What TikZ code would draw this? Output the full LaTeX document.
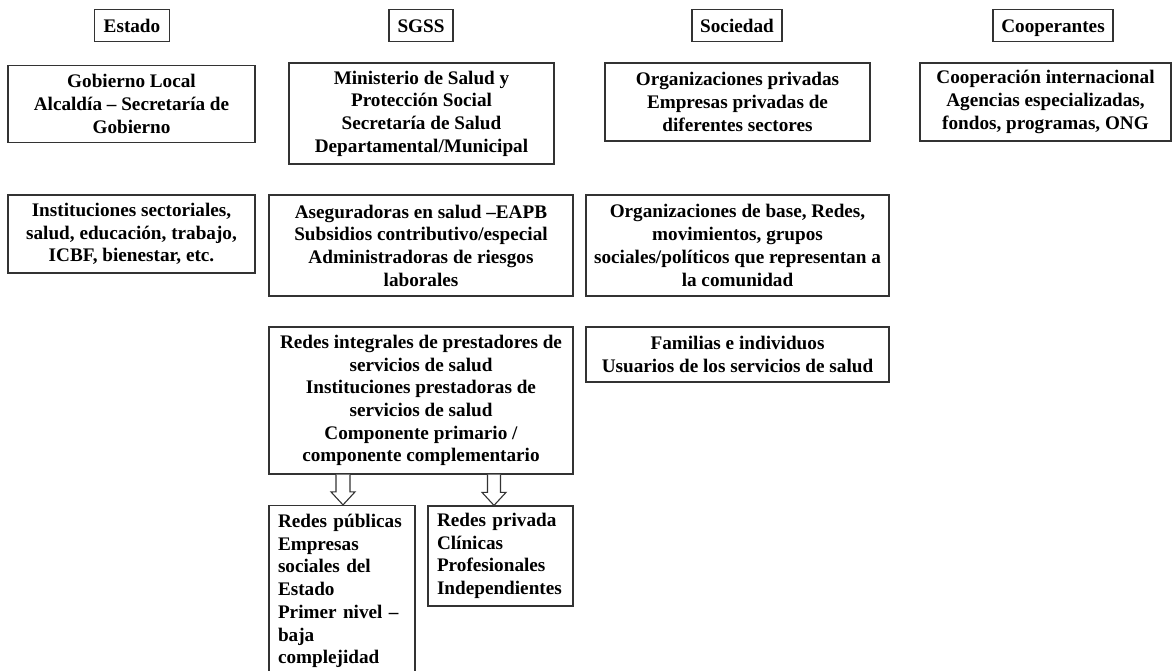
\documentclass[tikz,border=0pt]{standalone}
\usepackage{fontspec}
\setmainfont{Liberation Serif}
\usetikzlibrary{calc}
\begin{document}
\begin{tikzpicture}[x=1pt,y=-1pt,
  box/.style={draw=black!80, line width=1.2pt, rectangle, inner sep=0pt, align=center,
    font=\fontsize{19.2}{22.7}\selectfont\bfseries},
  hdr/.style={box, text height=14.4pt, text depth=0pt, minimum height=32},
  lbox/.style={draw=black!80, line width=1.2pt, rectangle, inner ysep=0pt, inner xsep=9pt, align=left,
    font=\fontsize{19.2}{22.7}\selectfont\bfseries},
  hollow/.style={draw=black!80, line width=1.1pt, fill=white, line join=miter}
]
\useasboundingbox (0,0) rectangle (1174,671);
\clip (0,0) rectangle (1174,671);
% headers
\node[hdr, minimum width=75] (estado) at (132,25.5) {Estado};
\node[hdr, minimum width=64] (sgss) at (421,25.5) {SGSS};
\node[hdr, minimum width=90] (soc) at (737,25.5) {Sociedad};
\node[hdr, minimum width=120] (coop) at (1053,25.5) {Cooperantes};
% row 1
\node[box, minimum width=247, minimum height=77.5] (gob) at (131.5,104) {Gobierno Local\\Alcaldía -- Secretaría de\\Gobierno};
\node[box, minimum width=265, minimum height=101] (min) at (421.5,113.5) {Ministerio de Salud y\\Protección Social\\Secretaría de Salud\\Departamental/Municipal};
\node[box, minimum width=265, minimum height=78] (orgp) at (737.5,102) {Organizaciones privadas\\Empresas privadas de\\diferentes sectores};
\node[box, minimum width=251, minimum height=78] (coopi) at (1045.5,102) {Cooperación internacional\\Agencias especializadas,\\fondos, programas, ONG};
% row 2
\node[box, minimum width=247, minimum height=78] (inst) at (131.5,234) {Instituciones sectoriales,\\salud, educación, trabajo,\\ICBF, bienestar, etc.};
\node[box, minimum width=304, minimum height=101] (aseg) at (421,245.5) {Aseguradoras en salud --EAPB\\Subsidios contributivo/especial\\Administradoras de riesgos\\laborales};
\node[box, minimum width=303, minimum height=101] (orgb) at (737.5,245.5) {Organizaciones de base, Redes,\\movimientos, grupos\\sociales/políticos que representan a\\la comunidad};
% row 3
\node[box, minimum width=304, minimum height=147] (ri) at (421,400.5) {Redes integrales de prestadores de\\servicios de salud\\Instituciones prestadoras de\\servicios de salud\\Componente primario /\\componente complementario};
\node[box, minimum width=303, minimum height=55] (fam) at (737.5,354.5) {Familias e individuos\\Usuarios de los servicios de salud};
% row 4
\node[lbox, text width=128, minimum height=171] (pub) at (342,591) {Redes públicas\\Empresas\\sociales del\\Estado\\Primer nivel --\\baja\\complejidad};
\node[lbox, text width=127, minimum height=100] (priv) at (500.5,556) {Redes privada\\Clínicas\\Profesionales\\Independientes};
% hollow arrows
\coordinate (la) at (ri.south -| 343,0);
\coordinate (lb) at (pub.north -| 343,0);
\coordinate (ra) at (ri.south -| 494,0);
\coordinate (rb) at (priv.north -| 494,0);
\draw[hollow] ($(la)+(-7,0)$) -- ($(lb)+(-7,-13)$) -- ($(lb)+(-12,-13)$) -- (lb) -- ($(lb)+(12,-13)$) -- ($(lb)+(7,-13)$) -- ($(la)+(7,0)$);
\draw[hollow] ($(ra)+(-6.5,0)$) -- ($(rb)+(-6.5,-13)$) -- ($(rb)+(-12,-13)$) -- (rb) -- ($(rb)+(12,-13)$) -- ($(rb)+(6.5,-13)$) -- ($(ra)+(6.5,0)$);
\end{tikzpicture}
\end{document}
